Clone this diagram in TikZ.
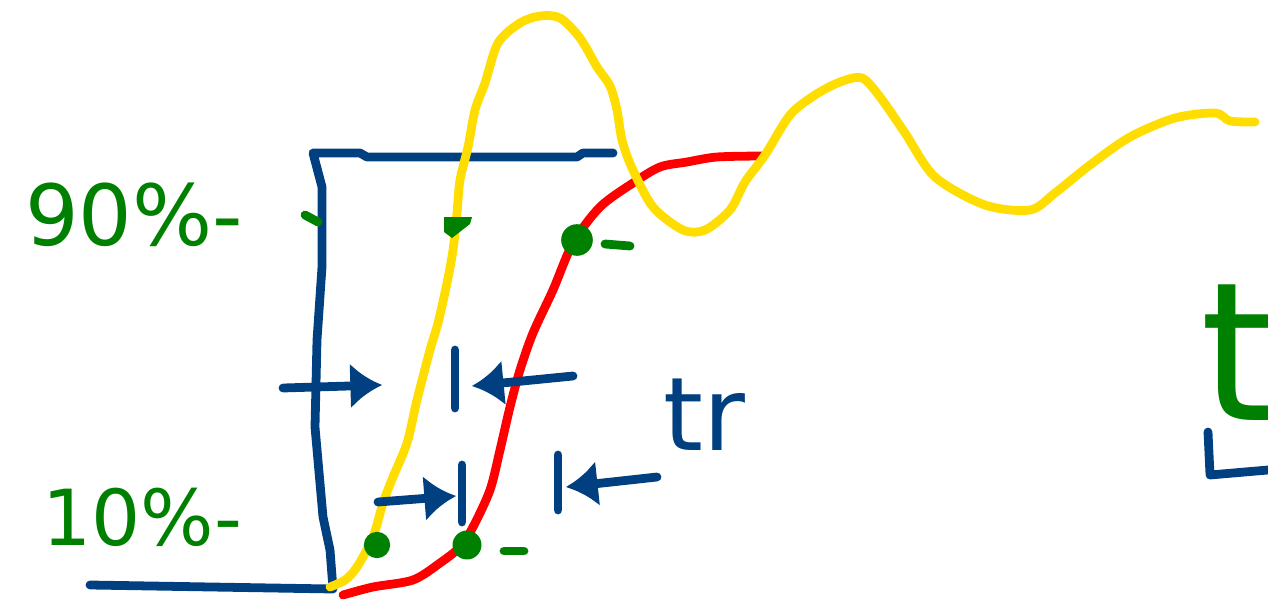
\documentclass[tikz,border=0pt]{standalone}
\usepackage{fontspec}
\setmainfont{DejaVu Sans}
\usetikzlibrary{arrows.meta}
\definecolor{pblue}{RGB}{0,64,128}
\definecolor{pgreen}{RGB}{0,128,0}
\definecolor{pyellow}{RGB}{255,221,0}
\definecolor{pred}{RGB}{255,0,0}
\tikzset{
  pen/.style={line width=5pt, line cap=round, line join=round},
  bluepen/.style={pen, draw=pblue},
  yelpen/.style={pen, draw=pyellow},
  redpen/.style={pen, draw=pred},
  greenpen/.style={pen, draw=pgreen},
  arr/.style={bluepen, -{Latex[length=18pt,width=26pt]}},
  gdot/.style={circle, fill=pgreen, inner sep=0pt},
  lbl/.style={anchor=base west, inner sep=0pt, text=pgreen},
}
\begin{document}
\begin{tikzpicture}[x=0.02cm, y=-0.02cm]
\useasboundingbox (0,0) rectangle (1268,615);

% input step (blue)
\draw[bluepen] (90,585) -- (333,589) -- (330,550) -- (323,517) -- (315,427)
  -- (317,340) -- (322,267) -- (322,187) -- (313,153) -- (360,153) -- (367,157)
  -- (577,157) -- (583,153) -- (613,153);

% red response
\draw[redpen] plot[smooth, tension=0.5] coordinates {
  (343,595) (373,587) (413,580) (440,563) (460,547) (473,527) (490,490)
  (500,450) (510,407) (520,370) (533,333) (553,290) (573,243) (600,207)
  (633,183) (660,167) (687,162) (717,157) (762,156)};

% yellow response
\draw[yelpen] plot[smooth, tension=0.5] coordinates {
  (330,587) (345,580) (357,567) (373,537) (383,503) (393,477) (407,443)
  (417,400) (430,350) (438,323) (447,283) (453,250) (457,213) (460,180)
  (468,147) (475,110) (485,83) (498,43) (520,23) (540,16) (560,18) (580,38)
  (597,67) (610,86) (617,110) (622,140) (632,168) (653,207) (683,230)
  (705,230) (730,210) (745,182) (765,155) (790,115) (815,95) (840,82)
  (862,78) (880,97) (905,133) (935,177) (985,205) (1030,210) (1055,193)
  (1090,165) (1130,137) (1175,118) (1215,113) (1230,121) (1255,122)};

% green 90% marks
\draw[greenpen] (305,215) -- (318,222);
\fill[pgreen] (444,217) -- (472,217) -- (470,224) -- (452,238) -- (444,232) -- cycle;
\node[gdot, minimum size=18pt] (d90) at (577,240) {};
\draw[greenpen] (605,244) -- (630,246);

% green 10% marks
\node[gdot, minimum size=15pt] (y10) at (377,545) {};
\node[gdot, minimum size=16.5pt] (r10) at (467,545) {};
\draw[greenpen] (504,551) -- (524,551);

% timing arrows
\coordinate (a1s) at (283,388); \coordinate (a1e) at (382,385);
\coordinate (b1t) at (455,350); \coordinate (b1b) at (455,408);
\coordinate (a2s) at (573,376); \coordinate (a2e) at (472,386);
\coordinate (a3s) at (378,502); \coordinate (a3e) at (456,496);
\coordinate (b2t) at (462,465); \coordinate (b2b) at (462,522);
\coordinate (b3t) at (558,455); \coordinate (b3b) at (558,510);
\coordinate (a4s) at (657,477); \coordinate (a4e) at (566,487);
\draw[arr] (a1s) -- (a1e);
\draw[bluepen] (b1t) -- (b1b);
\draw[arr] (a2s) -- (a2e);
\draw[arr] (a3s) -- (a3e);
\draw[bluepen] (b2t) -- (b2b);
\draw[bluepen] (b3t) -- (b3b);
\draw[arr] (a4s) -- (a4e);

% labels
\node[lbl, font=\fontsize{48pt}{50pt}\selectfont] (p90) at (25,245) {90\%-};
\node[lbl, font=\fontsize{44pt}{46pt}\selectfont] (p10) at (42,545) {10\%-};
\node[lbl, text=pblue, font=\fontsize{58pt}{60pt}\selectfont] (tr) at (663,450) {tr};
\node[lbl, font=\fontsize{110pt}{112pt}\selectfont] (tax) at (1200,420) {t};

% axis corner (blue)
\draw[bluepen] (1208,432) -- (1210,475) -- (1268,470);
\end{tikzpicture}
\end{document}
